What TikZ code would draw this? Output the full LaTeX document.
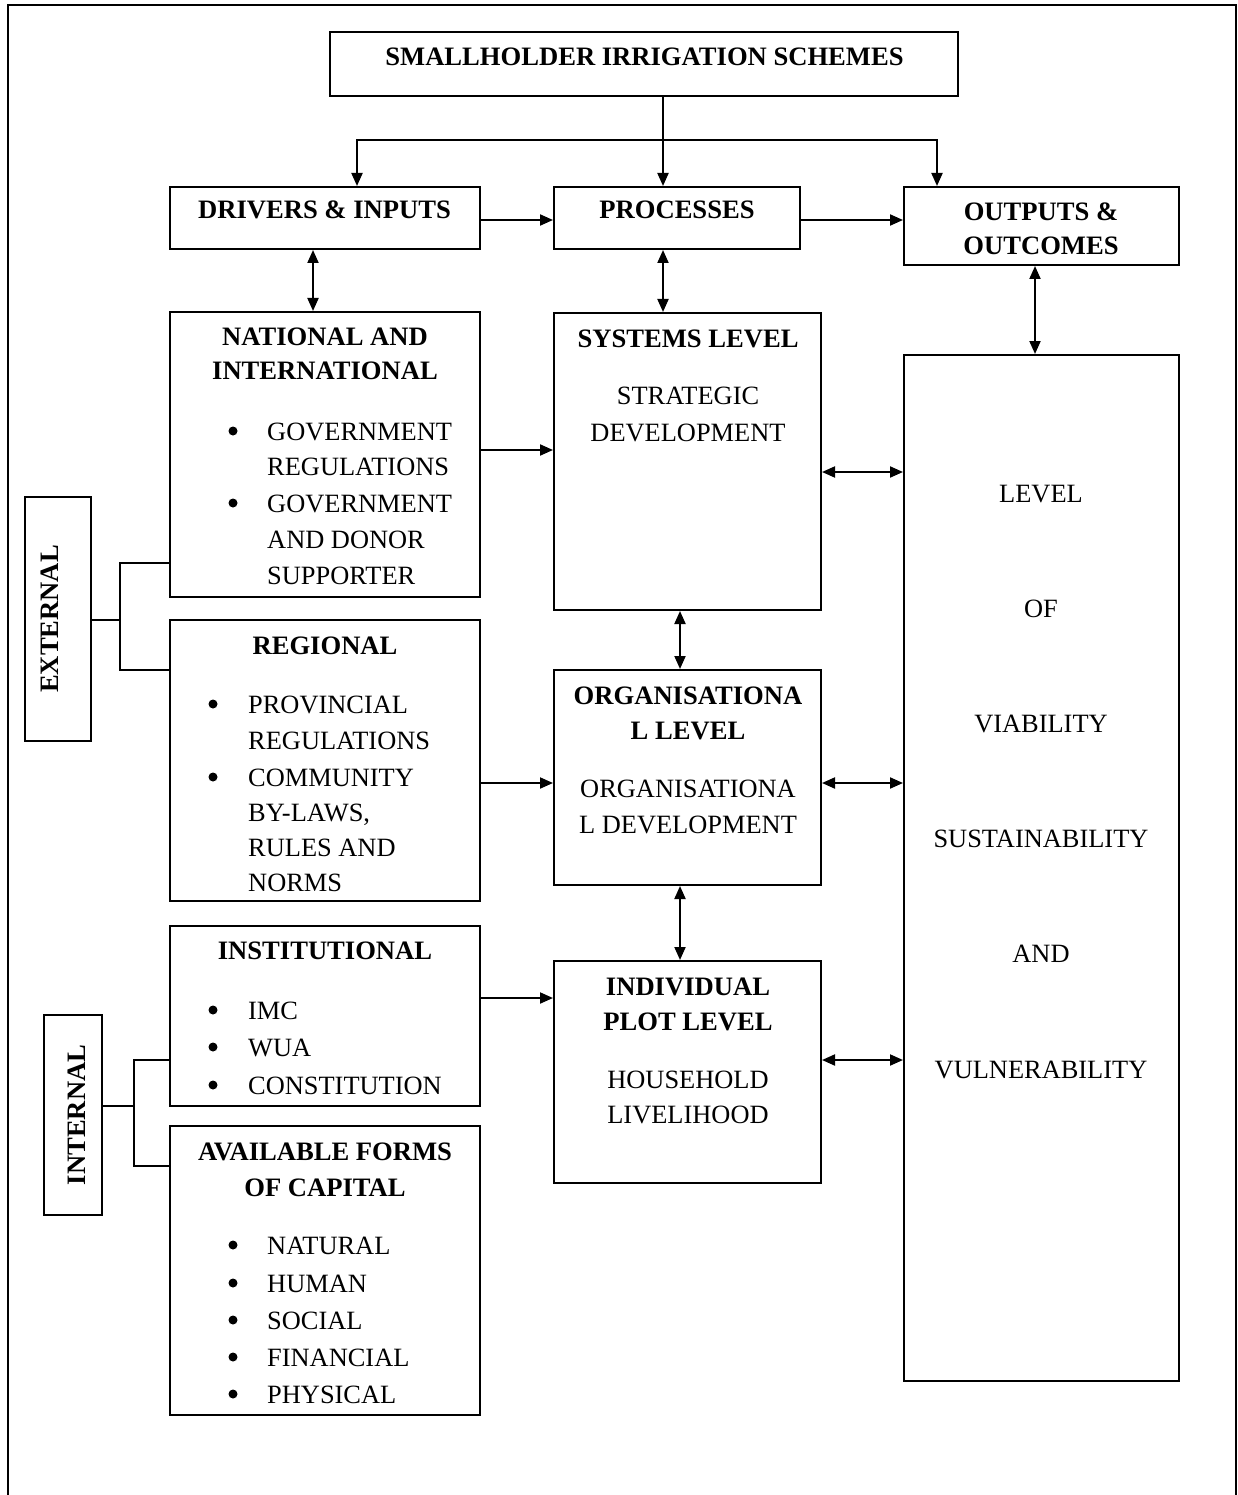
\documentclass[tikz,border=0pt]{standalone}
\usepackage{fontspec}
\setmainfont{Liberation Serif}
\usetikzlibrary{arrows.meta,calc}
\newcommand\Lc[4]{\node[txt,anchor=base] (#1) at (#2,#3) {#4};}
\newcommand\Lb[4]{\node[txt,anchor=base,font=\fontsize{26.6}{36}\selectfont\bfseries] (#1) at (#2,#3) {#4};}
\newcommand\Lw[4]{\node[txt,anchor=base west] (#1) at (#2,#3) {#4};}
\newcommand\Bu[3]{\node[circle,fill,inner sep=0pt,minimum size=9pt] (#1) at (#2,#3-9) {};}
\begin{document}
\begin{tikzpicture}[x=1pt,y=-1pt,
  box/.style={draw,line width=2pt,inner sep=0pt},
  txt/.style={inner sep=0pt,font=\fontsize{26.4}{36}\selectfont},
  arr/.style={line width=2pt,-{Triangle[length=13pt,width=11pt]}},
  darr/.style={line width=2pt,{Triangle[length=13pt,width=11pt]}-{Triangle[length=13pt,width=11pt]}},
  ln/.style={line width=2pt}]
\useasboundingbox (0,0) rectangle (1238,1495);
\draw[line width=2pt] (8,1495) -- (8,5) -- (1236,5) -- (1236,1495);
% boxes
\node[box,minimum width=628pt,minimum height=64pt] (top) at (644,64) {};
\node[box,minimum width=310pt,minimum height=62pt] (drv) at (325,218) {};
\node[box,minimum width=246pt,minimum height=62pt] (proc) at (677,218) {};
\node[box,minimum width=275pt,minimum height=78pt] (out) at (1041.5,226) {};
\node[box,minimum width=310pt,minimum height=285pt] (nat) at (325,454.5) {};
\node[box,minimum width=310pt,minimum height=281pt] (reg) at (325,760.5) {};
\node[box,minimum width=310pt,minimum height=180pt] (inst) at (325,1016) {};
\node[box,minimum width=310pt,minimum height=289pt] (cap) at (325,1270.5) {};
\node[box,minimum width=66pt,minimum height=244pt] (ext) at (58,619) {};
\node[box,minimum width=58pt,minimum height=200pt] (int) at (73,1115) {};
\node[box,minimum width=267pt,minimum height=297pt] (sys) at (687.5,461.5) {};
\node[box,minimum width=267pt,minimum height=215pt] (org) at (687.5,777.5) {};
\node[box,minimum width=267pt,minimum height=222pt] (ind) at (687.5,1072) {};
\node[box,minimum width=275pt,minimum height=1026pt] (res) at (1041.5,868) {};
% texts
\Lb{ttop}{644.5}{66}{SMALLHOLDER IRRIGATION SCHEMES}
\Lb{tdrv}{324.5}{219}{DRIVERS \& INPUTS}
\Lb{tproc}{677}{219}{PROCESSES}
\Lb{tout1}{1041}{221}{OUTPUTS \&}
\Lb{tout2}{1041}{255}{OUTCOMES}
\Lb{tnat1}{325}{345}{NATIONAL AND}
\Lb{tnat2}{325}{379}{INTERNATIONAL}
\Bu{bn1}{233}{440}\Lw{n1}{267}{440}{GOVERNMENT}
\Lw{n2}{267}{475}{REGULATIONS}
\Bu{bn2}{233}{512}\Lw{n3}{267}{512}{GOVERNMENT}
\Lw{n4}{267}{548}{AND DONOR}
\Lw{n5}{267}{584}{SUPPORTER}
\Lb{treg}{325}{654}{REGIONAL}
\Bu{br1}{213}{713}\Lw{r1}{248}{713}{PROVINCIAL}
\Lw{r2}{248}{749}{REGULATIONS}
\Bu{br2}{213}{786}\Lw{r3}{248}{786}{COMMUNITY}
\Lw{r4}{248}{821}{BY-LAWS,}
\Lw{r5}{248}{856}{RULES AND}
\Lw{r6}{248}{891}{NORMS}
\Lb{tinst}{325}{959}{INSTITUTIONAL}
\Bu{bi1}{213}{1019}\Lw{i1}{248}{1019}{IMC}
\Bu{bi2}{213}{1056}\Lw{i2}{248}{1056}{WUA}
\Bu{bi3}{213}{1094}\Lw{i3}{248}{1094}{CONSTITUTION}
\Lb{tcap1}{325}{1160}{AVAILABLE FORMS}
\Lb{tcap2}{325}{1196}{OF CAPITAL}
\Bu{bc1}{233}{1254}\Lw{c1}{267}{1254}{NATURAL}
\Bu{bc2}{233}{1292}\Lw{c2}{267}{1292}{HUMAN}
\Bu{bc3}{233}{1329}\Lw{c3}{267}{1329}{SOCIAL}
\Bu{bc4}{233}{1366}\Lw{c4}{267}{1366}{FINANCIAL}
\Bu{bc5}{233}{1403}\Lw{c5}{267}{1403}{PHYSICAL}
\Lb{tsys}{688}{347}{SYSTEMS LEVEL}
\Lc{s1}{688}{404}{STRATEGIC}
\Lc{s2}{688}{441}{DEVELOPMENT}
\Lb{torg1}{688}{704}{ORGANISATIONA}
\Lb{torg2}{688}{739}{L LEVEL}
\Lc{o1}{688}{797}{ORGANISATIONA}
\Lc{o2}{688}{833}{L DEVELOPMENT}
\Lb{tind1}{688}{995}{INDIVIDUAL}
\Lb{tind2}{688}{1030}{PLOT LEVEL}
\Lc{h1}{688}{1088}{HOUSEHOLD}
\Lc{h2}{688}{1123}{LIVELIHOOD}
\Lc{v1}{1041}{502}{LEVEL}
\Lc{v2}{1041}{617}{OF}
\Lc{v3}{1041}{732}{VIABILITY}
\Lc{v4}{1041}{847}{SUSTAINABILITY}
\Lc{v5}{1041}{962}{AND}
\Lc{v6}{1041}{1078}{VULNERABILITY}
\node[txt,font=\fontsize{26.6}{36}\selectfont\bfseries,rotate=90] (text) at (50,619) {EXTERNAL};
\node[txt,font=\fontsize{26.6}{36}\selectfont\bfseries,rotate=90] (tint) at (77,1115) {INTERNAL};
% connectors
\draw[arr] ($(top.south)+(19,0)$) -- ($(proc.north)+(-14,0)$);
\coordinate (jn) at ($(top.south)+(19,43)$);
\draw[arr] (jn) -| ($(drv.north)+(32,0)$);
\draw[arr] (jn) -| ($(out.north)+(-104.5,0)$);
\draw[arr] ($(drv.east)+(0,2)$) -- ($(proc.west)+(0,2)$);
\draw[arr] ($(proc.east)+(0,2)$) -- ($(out.west)+(0,-6)$);
\draw[darr] ($(drv.south)+(-12,0)$) -- ($(nat.north)+(-12,0)$);
\draw[darr] ($(proc.south)+(-14,0)$) -- ($(sys.north)+(-24.5,0)$);
\draw[darr] ($(out.south)+(-6.5,0)$) -- ($(res.north)+(-6.5,0)$);
\draw[arr] ($(nat.east)+(0,-4.5)$) -- ($(sys.west)+(0,-11.5)$);
\draw[darr] ($(sys.east)+(0,10.5)$) -- ($(res.west)+(0,-396)$);
\draw[darr] ($(sys.south)+(-7.5,0)$) -- ($(org.north)+(-7.5,0)$);
\draw[arr] ($(reg.east)+(0,22.5)$) -- ($(org.west)+(0,5.5)$);
\draw[darr] ($(org.east)+(0,5.5)$) -- ($(res.west)+(0,-85)$);
\draw[darr] ($(org.south)+(-7.5,0)$) -- ($(ind.north)+(-7.5,0)$);
\draw[arr] ($(inst.east)+(0,-18)$) -- ($(ind.west)+(0,-74)$);
\draw[darr] ($(ind.east)+(0,-12)$) -- ($(res.west)+(0,192)$);
% brackets
\coordinate (ej) at ($(ext.east)+(28,1)$);
\draw[ln] ($(ext.east)+(0,1)$) -- (ej);
\draw[ln] ($(nat.west)+(0,108.5)$) -| (ej);
\draw[ln] ($(reg.west)+(0,-90.5)$) -| (ej);
\coordinate (ij) at ($(int.east)+(31,-9)$);
\draw[ln] ($(int.east)+(0,-9)$) -- (ij);
\draw[ln] ($(inst.west)+(0,44)$) -| (ij);
\draw[ln] ($(cap.west)+(0,-104.5)$) -| (ij);
\end{tikzpicture}
\end{document}
